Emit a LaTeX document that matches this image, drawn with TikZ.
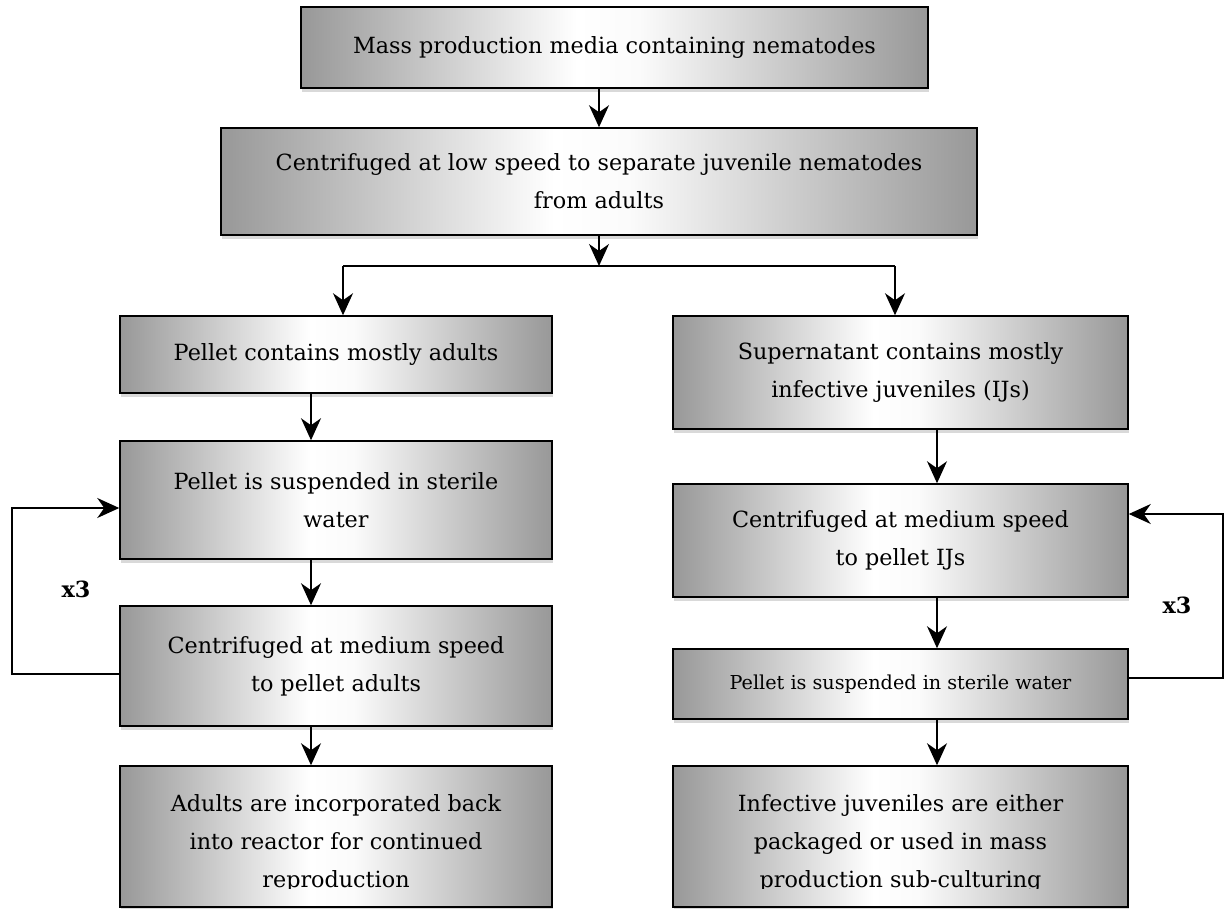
\documentclass[tikz,border=0pt]{standalone}
\usepackage{fontspec}
\setmainfont{DejaVu Serif}
\usetikzlibrary{arrows.meta,shadows}
\definecolor{boxgray}{RGB}{152,152,152}
\pgfdeclarehorizontalshading{boxshade}{100bp}{color(0bp)=(boxgray); color(25bp)=(boxgray);
	color(47bp)=(white); color(52bp)=(white!96!boxgray); color(75bp)=(boxgray); color(100bp)=(boxgray)}
\begin{document}
\begin{tikzpicture}[x=1pt,y=-1pt,>={Stealth[length=22pt,width=20pt,inset=7pt]},
	font=\fontsize{22.3}{38}\selectfont,
	box/.style={draw,line width=1.5pt,shading=boxshade,
		inner sep=0pt,align=center,drop shadow={shadow xshift=1pt,shadow yshift=-4pt,opacity=0.3}},
	link/.style={line width=1.4pt},
	rep/.style={font=\fontsize{22.3}{26}\selectfont\bfseries}]
	\useasboundingbox (0,0) rectangle (1225,909);
	\def\wL{432} \def\wR{455} % box widths
	% main column
	\node[box,minimum width=627,minimum height=81] (media) at (614.5,47.5) {Mass production media containing nematodes};
	\node[box,minimum width=756,minimum height=107] (lowspin) at (599,181.5) {Centrifuged at low speed to separate juvenile nematodes\\from adults};
	% adults
	\node[box,minimum width=\wL,minimum height=77] (pellet) at (336,354.5) {Pellet contains mostly adults};
	\node[box,minimum width=\wL,minimum height=118] (suspend) at (336,500) {Pellet is suspended in sterile\\water};
	\node[box,minimum width=\wL,minimum height=120] (spinA) at (336,666) {Centrifuged at medium speed\\to pellet adults};
	\node[box,minimum width=\wL,minimum height=141] (adults) at (336,836.5) {};
	% juveniles
	\node[box,minimum width=\wR,minimum height=113] (superN) at (900.5,372.5) {Supernatant contains mostly\\infective juveniles (IJs)};
	\node[box,minimum width=\wR,minimum height=113] (spinB) at (900.5,540.5) {Centrifuged at medium speed\\to pellet IJs};
	\node[box,minimum width=\wR,minimum height=70] (resusp) at (900.5,684) {\fontsize{19.2}{23}\selectfont Pellet is suspended in sterile water};
	\node[box,minimum width=\wR,minimum height=141] (ijs) at (900.5,836.5) {};
	\begin{scope}
		\clip (100,766) rectangle (1140,888);
		\node[align=center] (adultstxt) at (336,843) {Adults are incorporated back\\into reactor for continued\\reproduction};
		\node[align=center] (ijstxt) at (900.5,843) {Infective juveniles are either\\packaged or used in mass\\production sub-culturing};
	\end{scope}
	\coordinate (split) at (599,266);
	\coordinate (left) at (343,266);
	\coordinate (right) at (895,266);
	\coordinate (colA) at (311,0);
	\coordinate (colB) at (937,0);
	\coordinate (loopA) at (12,508);
	\coordinate (loopB) at (1223,514);
	\draw[link,->] (media.south -| lowspin) -- (lowspin.north);
	\draw[link,->] (lowspin.south) -- (split);
	\draw[link] (left) -- (right);
	\draw[link,->] (left) -- (left |- pellet.north);
	\draw[link,->] (right) -- (right |- superN.north);
	\draw[link,->] (pellet.south -| colA) -- (suspend.north -| colA);
	\draw[link,->] (suspend.south -| colA) -- (spinA.north -| colA);
	\draw[link,->] (spinA.south -| colA) -- (adults.north -| colA);
	\draw[link,->] (superN.south -| colB) -- (spinB.north -| colB);
	\draw[link,->] (spinB.south -| colB) -- (resusp.north -| colB);
	\draw[link,->] (resusp.south -| colB) -- (ijs.north -| colB);
	% repeat loops
	\draw[link,->] ([yshift=-8pt]spinA.west) -| (loopA) -- (loopA -| suspend.west);
	\draw[link,->] ([yshift=6pt]resusp.east) -| (loopB) -- (loopB -| spinB.east);
	\node[rep] (repA) at (76,589) {x3};
	\node[rep] (repB) at (1177,605) {x3};
\end{tikzpicture}
\end{document}
